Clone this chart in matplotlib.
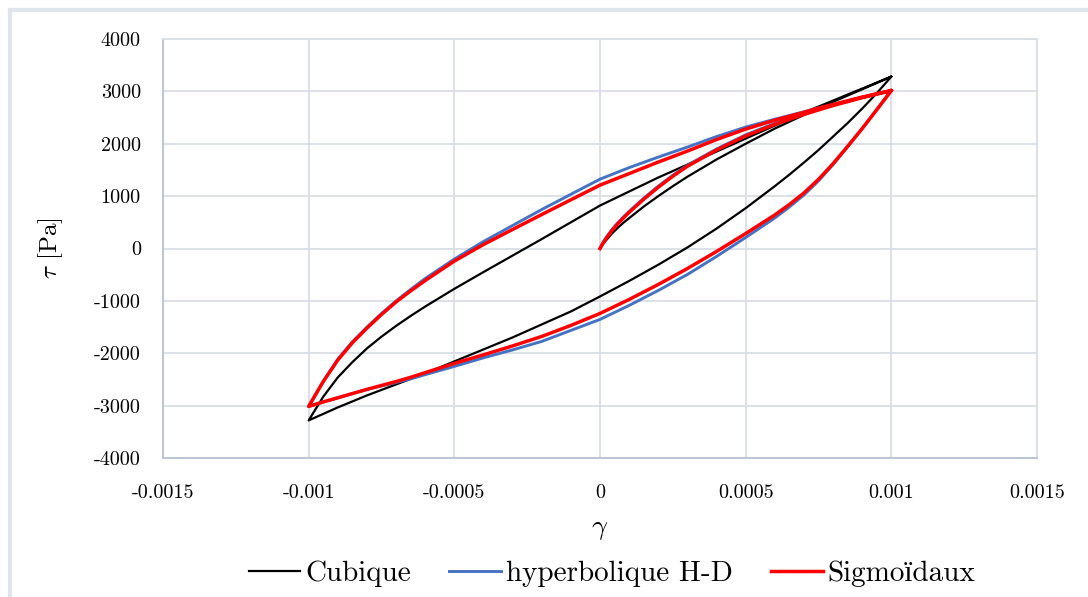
import matplotlib
matplotlib.use("Agg")
import matplotlib.pyplot as plt
from matplotlib.lines import Line2D
from matplotlib.ticker import FixedLocator, FixedFormatter

plt.rcParams['font.family'] = ['cmr10', 'Liberation Serif', 'DejaVu Serif']
plt.rcParams['mathtext.fontset'] = 'cm'
plt.rcParams['axes.unicode_minus'] = False

# ---------------- data ----------------
# strain values of the loop branches (unloading / reloading)
gamma_loop = [-0.001, -0.00095, -0.0009, -0.00085, -0.0008, -0.00075, -0.0007,
              -0.00065, -0.0006, -0.0005, -0.0004, -0.0003, -0.0002, -0.0001,
              0.0, 0.0001, 0.0002, 0.0003, 0.0004, 0.0005, 0.0006, 0.00065,
              0.0007, 0.00075, 0.0008, 0.00085, 0.0009, 0.00095, 0.001]
# strain values of the initial loading curve
gamma_init = [0.0, 0.00001, 0.00002, 0.00004, 0.00006, 0.00008, 0.0001, 0.00015,
              0.0002, 0.00025, 0.0003, 0.0004, 0.0005, 0.0006, 0.0007, 0.0008,
              0.0009, 0.001]

# Cubique
cub_init = [0, 80, 150, 280, 390, 490, 580, 800, 1000, 1190, 1370, 1700, 2000,
            2290, 2550, 2800, 3040, 3282]
cub_upper = [-3282, -2830, -2461, -2170, -1908, -1683, -1478, -1288, -1108, -770,
             -450, -135, 180, 500, 820, 1088, 1355, 1603, 1851, 2099, 2347, 2471,
             2595, 2710, 2824, 2940, 3053, 3168, 3282]
cub_lower = [-3282, -3158, -3034, -2920, -2805, -2700, -2595, -2490, -2385, -2156,
             -1927, -1698, -1450, -1202, -916, -620, -310, 20, 380, 770, 1190,
             1410, 1641, 1880, 2137, 2395, 2671, 2965, 3282]

# hyperbolique H-D
hyp_init = [0, 110, 200, 355, 485, 600, 710, 960, 1190, 1400, 1590, 1900, 2170,
            2390, 2575, 2740, 2885, 3015]
hyp_upper = [-3015, -2540, -2111, -1781, -1501, -1241, -1001, -781, -573, -202,
             133, 439, 744, 1035, 1324, 1544, 1745, 1936, 2137, 2318, 2469, 2539,
             2610, 2685, 2750, 2820, 2890, 2955, 3015]
hyp_lower = [-3015, -2930, -2850, -2770, -2690, -2625, -2559, -2489, -2408, -2251,
             -2087, -1936, -1774, -1564, -1354, -1087, -801, -496, -152, 210, 583,
             792, 1022, 1291, 1601, 1940, 2290, 2650, 3015]

# Sigmoidaux
sig_init = [0, 100, 185, 335, 465, 580, 690, 940, 1170, 1380, 1570, 1880, 2150,
            2370, 2560, 2730, 2880, 3015]
sig_upper = [-3015, -2540, -2130, -1800, -1520, -1260, -1020, -810, -611, -240,
             76, 363, 649, 930, 1210, 1430, 1650, 1860, 2080, 2280, 2450, 2525,
             2600, 2680, 2750, 2820, 2890, 2955, 3015]
sig_lower = [-3015, -2930, -2850, -2770, -2690, -2615, -2540, -2460, -2370, -2194,
             -2030, -1860, -1679, -1469, -1240, -973, -687, -382, -57, 286, 640,
             840, 1060, 1320, 1620, 1950, 2290, 2650, 3015]

series_names = ["Cubique", "hyperbolique H-D", "Sigmoïdaux"]
series_colors = ["#000000", "#4472C4", "#FF0000"]

x_ticks = [-0.0015, -0.001, -0.0005, 0, 0.0005, 0.001, 0.0015]
x_tick_labels = ["-0.0015", "-0.001", "-0.0005", "0", "0.0005", "0.001", "0.0015"]
y_ticks = [-4000, -3000, -2000, -1000, 0, 1000, 2000, 3000, 4000]
y_tick_labels = ["-4000", "-3000", "-2000", "-1000", "0", "1000", "2000", "3000", "4000"]


def path(init, upper, lower):
    xs = list(gamma_init) + list(reversed(gamma_loop)) + list(gamma_loop)
    ys = list(init) + list(reversed(upper)) + list(lower)
    return xs, ys


# ---------------- figure ----------------
W, H = 1088, 597
fig = plt.figure(figsize=(W / 100, H / 100), dpi=100)
ax = fig.add_axes([163 / W, 1 - 458 / H, (1037 - 163) / W, (458 - 39) / H])

grid_c = "#D9DEE7"
ax.set_xlim(-0.0015, 0.0015)
ax.set_ylim(-4000, 4000)
ax.xaxis.set_major_locator(FixedLocator(x_ticks))
ax.xaxis.set_major_formatter(FixedFormatter(x_tick_labels))
ax.yaxis.set_major_locator(FixedLocator(y_ticks))
ax.yaxis.set_major_formatter(FixedFormatter(y_tick_labels))
ax.grid(True, color=grid_c, linewidth=1.3)
ax.set_axisbelow(True)
for s in ["top", "right"]:
    ax.spines[s].set_color(grid_c)
    ax.spines[s].set_linewidth(1.3)
for s in ["left", "bottom"]:
    ax.spines[s].set_color("#BCC6D6")
    ax.spines[s].set_linewidth(1.5)
ax.tick_params(axis="both", length=0, labelsize=14.5, colors="#000000")
ax.tick_params(axis="x", pad=18.5)
ax.tick_params(axis="y", pad=16)

widths = [1.6, 2.1, 2.5]
data = [(cub_init, cub_upper, cub_lower),
        (hyp_init, hyp_upper, hyp_lower),
        (sig_init, sig_upper, sig_lower)]
handles = []
for (ini, up, lo), name, col, lw in zip(data, series_names, series_colors, widths):
    xs, ys = path(ini, up, lo)
    h, = ax.plot(xs, ys, color=col, linewidth=lw, label=name,
                 solid_joinstyle="round")
    handles.append(h)

ax.set_xlabel(r"$\gamma$", fontsize=20, labelpad=10)
ax.set_ylabel(r"$\tau$ [Pa]", fontsize=18, labelpad=21)

leg = fig.legend(handles=handles, loc="center", bbox_to_anchor=(612 / W, 1 - 574 / H),
                 ncol=3, frameon=False, fontsize=21, handlelength=1.78,
                 handletextpad=0.17, columnspacing=1.3)

# outer chart frame (light border, top and left visible)
fig.add_artist(Line2D([10 / W, 1.0], [1 - 10 / H, 1 - 10 / H], color="#E0E4EC",
                      linewidth=3, transform=fig.transFigure))
fig.add_artist(Line2D([10 / W, 10 / W], [0.0, 1 - 10 / H], color="#E0E4EC",
                      linewidth=3, transform=fig.transFigure))

fig.savefig("out.png", dpi=100)
